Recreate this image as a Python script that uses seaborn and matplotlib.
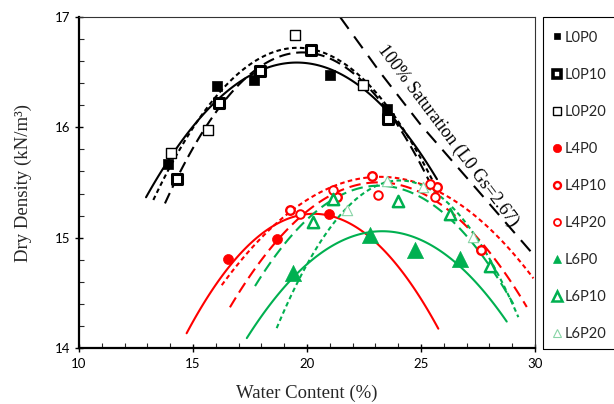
import numpy as np
import pandas as pd
import matplotlib
matplotlib.use("Agg")
import matplotlib.pyplot as plt
from matplotlib.lines import Line2D
from matplotlib.patches import Rectangle
from matplotlib.ticker import MultipleLocator
import seaborn as sns

# ---------------- data ----------------
L0P0_x = [13.9, 16.07, 17.68, 21.0, 23.5]
L0P0_y = [15.67, 16.375, 16.43, 16.47, 16.17]
L0P10_x = [14.28, 16.15, 17.94, 20.16, 23.57]
L0P10_y = [15.53, 16.22, 16.51, 16.70, 16.08]
L0P20_x = [14.02, 15.64, 19.47, 22.47]
L0P20_y = [15.77, 15.98, 16.84, 16.38]
L4P0_x = [16.55, 18.70, 20.96]
L4P0_y = [14.81, 14.985, 15.215]
L4P10_x = [19.25, 21.3, 22.84, 25.69, 27.63]
L4P10_y = [15.25, 15.37, 15.56, 15.46, 14.89]
L4P20_x = [19.69, 21.15, 23.13, 25.39, 25.6]
L4P20_y = [15.21, 15.43, 15.39, 15.49, 15.37]
L6P0_x = [19.4, 22.76, 24.74, 26.71]
L6P0_y = [14.68, 15.02, 14.89, 14.81]
L6P10_x = [20.25, 21.13, 24.0, 26.27, 28.03]
L6P10_y = [15.14, 15.35, 15.33, 15.21, 14.74]
L6P20_x = [21.74, 23.49, 25.1, 27.27]
L6P20_y = [15.25, 15.51, 15.46, 15.01]

# trendline points (start, mid, peak, mid, end)
fit_L0P0_x = [12.94, 16.0, 19.55, 23.5, 25.7]
fit_L0P0_y = [15.37, 16.23, 16.58, 16.17, 15.52]
fit_L0P10_x = [13.77, 16.5, 19.8, 23.0, 25.6]
fit_L0P10_y = [15.31, 16.27, 16.68, 16.29, 15.41]
fit_L0P20_x = [13.26, 16.0, 19.6, 23.0, 25.7]
fit_L0P20_y = [15.34, 16.28, 16.72, 16.32, 15.44]
fit_L4P0_x = [14.72, 17.5, 20.24, 23.0, 25.76]
fit_L4P0_y = [14.13, 14.95, 15.22, 14.95, 14.18]
fit_L4P10_x = [16.62, 19.9, 23.13, 26.4, 29.64]
fit_L4P10_y = [14.37, 15.22, 15.50, 15.22, 14.37]
fit_L4P20_x = [16.26, 19.7, 23.2, 26.6, 29.93]
fit_L4P20_y = [14.57, 15.30, 15.55, 15.32, 14.63]
fit_L6P0_x = [17.36, 20.3, 23.3, 26.3, 28.76]
fit_L6P0_y = [14.09, 14.81, 15.06, 14.81, 14.24]
fit_L6P10_x = [17.72, 20.4, 23.16, 26.0, 29.05]
fit_L6P10_y = [14.56, 15.24, 15.47, 15.22, 14.40]
fit_L6P20_x = [18.67, 21.4, 24.07, 26.7, 29.27]
fit_L6P20_y = [14.18, 15.19, 15.52, 15.20, 14.28]

sat_x = [21.45, 23.2, 25.0, 27.4, 30.0]
sat_y = [17.0, 16.50, 16.02, 15.45, 14.83]

legend_labels = ["L0P0", "L0P10", "L0P20", "L4P0", "L4P10", "L4P20",
                 "L6P0", "L6P10", "L6P20"]

x_ticks = [10, 15, 20, 25, 30]
y_ticks = [14, 15, 16, 17]

# ---------------- style ----------------
sns.set_style("white")
plt.rcParams["font.family"] = ["Lato", "DejaVu Sans"]

RED = "#FF0000"
GREEN = "#00B050"
LGREEN = "#88D4A6"
BLACK = "#000000"

fig = plt.figure(figsize=(6.14, 4.04), dpi=100)
ax = fig.add_axes([79 / 614, 1 - 348 / 404, (535 - 79) / 614, (348 - 17) / 404])

SHORT = (0, (2.2, 1.6))
LONG = (0, (5.5, 2.8))


def trend(xs, ys, color, ls):
    coef = np.polyfit(xs, ys, 2)
    gx = np.linspace(min(xs), max(xs), 120)
    gy = np.polyval(coef, gx)
    df = pd.DataFrame({"x": gx, "y": gy})
    sns.lineplot(data=df, x="x", y="y", ax=ax, color=color, linewidth=1.5,
                 linestyle=ls, sort=False, estimator=None, legend=False, zorder=2)


trend(fit_L0P0_x, fit_L0P0_y, BLACK, "-")
trend(fit_L0P10_x, fit_L0P10_y, BLACK, LONG)
trend(fit_L0P20_x, fit_L0P20_y, BLACK, SHORT)
trend(fit_L4P0_x, fit_L4P0_y, RED, "-")
trend(fit_L4P10_x, fit_L4P10_y, RED, LONG)
trend(fit_L4P20_x, fit_L4P20_y, RED, SHORT)
trend(fit_L6P0_x, fit_L6P0_y, GREEN, "-")
trend(fit_L6P10_x, fit_L6P10_y, GREEN, LONG)
trend(fit_L6P20_x, fit_L6P20_y, GREEN, SHORT)

sns.lineplot(x=sat_x, y=sat_y, ax=ax, color=BLACK, linewidth=1.5,
             linestyle=(0, (7, 4.5)), sort=False, estimator=None, legend=False, zorder=2)

ax.text(26.2, 15.92, "100% Saturation (L0 Gs=2.67)", rotation=-53,
        rotation_mode="anchor", ha="center", va="center",
        fontsize=13, family=["Liberation Serif"], color=BLACK)


def pts(xs, ys, marker, s, face, edge, lw, z=4):
    sns.scatterplot(x=xs, y=ys, ax=ax, marker=marker, s=s, color=face,
                    edgecolor=edge, linewidth=lw, legend=False, zorder=z)


pts(L0P0_x, L0P0_y, "s", 52, BLACK, BLACK, 0.5)
pts(L0P10_x, L0P10_y, "s", 49, "white", BLACK, 2.2)
pts(L0P20_x, L0P20_y, "s", 49, "white", BLACK, 1.0)
pts(L4P0_x, L4P0_y, "o", 52, RED, RED, 0.5)
pts(L4P10_x, L4P10_y, "o", 38, "white", RED, 1.7)
pts(L4P20_x, L4P20_y, "o", 38, "white", RED, 1.4)
pts(L6P0_x, L6P0_y, "^", 135, GREEN, GREEN, 0.5)
pts(L6P10_x, L6P10_y, "^", 66, "white", GREEN, 1.8)
pts(L6P20_x, L6P20_y, "^", 55, "white", LGREEN, 0.8)

# ---------------- axes ----------------
ax.set_xlim(10, 30)
ax.set_ylim(14, 17)
ax.set_xticks(x_ticks)
ax.set_yticks(y_ticks)
ax.xaxis.set_minor_locator(MultipleLocator(1))
ax.yaxis.set_minor_locator(MultipleLocator(0.2))
ax.tick_params(which="major", direction="inout", length=6, width=1,
               labelsize=9.5, colors=BLACK, bottom=True, left=True)
ax.tick_params(which="minor", direction="in", length=3.5, width=0.8,
               bottom=True, left=True)
ax.tick_params(axis="x", pad=4)
ax.tick_params(axis="y", pad=3)
for side in ["left", "bottom"]:
    ax.spines[side].set_linewidth(1.6)
    ax.spines[side].set_color(BLACK)
for side in ["top", "right"]:
    ax.spines[side].set_linewidth(0.8)
    ax.spines[side].set_color("#333333")

ax.set_xlabel("Water Content (%)", fontsize=13.5, family=["Liberation Serif"],
              labelpad=11)
ax.set_ylabel("Dry Density (kN/m³)", fontsize=13.5, family=["Liberation Serif"],
              labelpad=17)

# ---------------- legend ----------------
handles = [
    Line2D([], [], ls="", marker="s", ms=5, mfc=BLACK, mec=BLACK, mew=0.5),
    Line2D([], [], ls="", marker="s", ms=5.8, mfc="white", mec=BLACK, mew=2.6),
    Line2D([], [], ls="", marker="s", ms=5.3, mfc="white", mec=BLACK, mew=1.0),
    Line2D([], [], ls="", marker="o", ms=6, mfc=RED, mec=RED, mew=0.5),
    Line2D([], [], ls="", marker="o", ms=5, mfc="white", mec=RED, mew=1.7),
    Line2D([], [], ls="", marker="o", ms=5, mfc="white", mec=RED, mew=1.3),
    Line2D([], [], ls="", marker="^", ms=6, mfc=GREEN, mec=GREEN, mew=0.5),
    Line2D([], [], ls="", marker="^", ms=7, mfc="white", mec=GREEN, mew=1.8),
    Line2D([], [], ls="", marker="^", ms=6.2, mfc="white", mec=LGREEN, mew=0.8),
]
leg = fig.legend(handles, legend_labels, loc="upper left",
                 bbox_to_anchor=(547.8 / 614, 1 - 26.2 / 404),
                 bbox_transform=fig.transFigure, borderaxespad=0,
                 fontsize=10.5, frameon=False, labelspacing=1.58, borderpad=0.3,
                 handlelength=0.6, handletextpad=0.22)

fig.add_artist(Rectangle((543 / 614, 1 - 349 / 404), 100 / 614, 332 / 404,
                         transform=fig.transFigure, fill=False,
                         edgecolor=BLACK, linewidth=0.8))

fig.savefig("out.png", dpi=100)
